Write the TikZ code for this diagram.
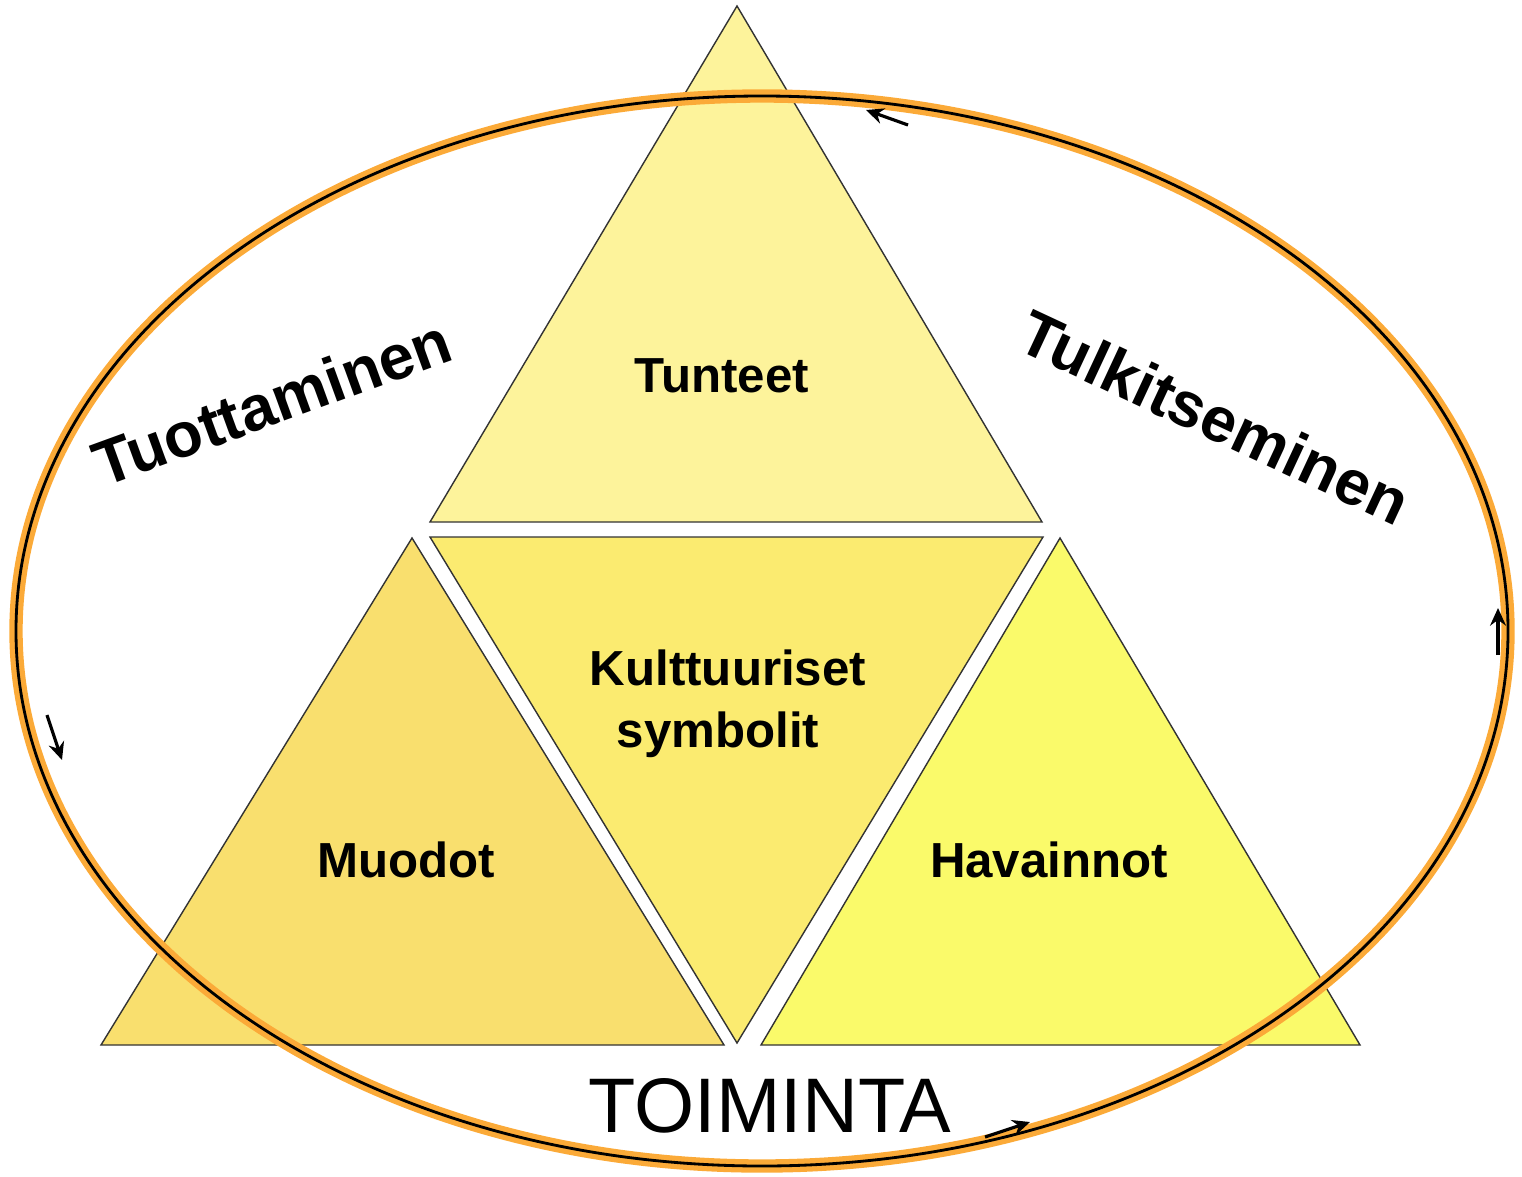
\documentclass[tikz,border=0pt]{standalone}
\usepackage{fontspec}
\setmainfont{Liberation Sans}
\usetikzlibrary{arrows.meta}

\definecolor{toplight}{RGB}{253,243,155}
\definecolor{midyellow}{RGB}{251,235,112}
\definecolor{leftyellow}{RGB}{249,223,110}
\definecolor{rightyellow}{RGB}{250,250,106}
\definecolor{ringorange}{RGB}{251,170,56}

\begin{document}
\begin{tikzpicture}[
    x=0.01cm, y=-0.01cm,
    tri/.style={draw=black!80, line width=0.4pt},
    tritext/.style={font=\bfseries\fontsize{14}{17.5}\selectfont, align=center},
    side/.style={font=\bfseries\fontsize{18}{20}\selectfont},
    ring/.style={draw=ringorange, line width=3.8pt},
    flow/.style={-{Stealth[length=5pt, width=4.5pt]}, line width=0.9pt}
]
    \useasboundingbox (0,0) rectangle (1522,1176);

    % Triangles
    \coordinate (tA) at (737,6);
    \coordinate (tL) at (430,522);
    \coordinate (tR) at (1042,522);
    \fill[toplight] (tA) -- (tR) -- (tL) -- cycle;
    \draw[tri] (tA) -- (tR) -- (tL) -- cycle;

    \coordinate (mL) at (430,537);
    \coordinate (mR) at (1043,537);
    \coordinate (mB) at (737,1043);
    \fill[midyellow] (mL) -- (mR) -- (mB) -- cycle;
    \draw[tri] (mL) -- (mR) -- (mB) -- cycle;

    \coordinate (lA) at (412,538);
    \coordinate (lL) at (101,1045);
    \coordinate (lR) at (724,1045);
    \fill[leftyellow] (lA) -- (lR) -- (lL) -- cycle;
    \draw[tri] (lA) -- (lR) -- (lL) -- cycle;

    \coordinate (rA) at (1060,538);
    \coordinate (rL) at (761,1045);
    \coordinate (rR) at (1360,1045);
    \fill[rightyellow] (rA) -- (rR) -- (rL) -- cycle;
    \draw[tri] (rA) -- (rR) -- (rL) -- cycle;

    % Texts in the triangles
    \node[tritext] (tunteet) at (722,376) {Tunteet};
    \node[tritext] (kult) at (728,704) {Kulttuuriset\\symbolit\hspace*{0.2cm}};
    \node[tritext] (muodot) at (406,860) {Muodot};
    \node[tritext] (havain) at (1049,860) {Havainnot};

    % Cycle round them
    \draw[ring] (762,631) ellipse (746 and 535);
    \draw[line width=0.8pt] (762,631) ellipse (746 and 535);

    \node[side, rotate=20] (tuott) at (272,402) {Tuottaminen};
    \node[side, rotate=-25] (tulk) at (1215,417) {Tulkitseminen};
    \node[font=\fontsize{22}{24}\selectfont] (toim) at (770,1106) {TOIMINTA};

    % Direction of the cycle
    \coordinate (a1s) at (908,125);
    \coordinate (a1e) at (866,110);
    \coordinate (a2s) at (47,715);
    \coordinate (a2e) at (62,760);
    \coordinate (a3s) at (1498,655);
    \coordinate (a3e) at (1498,608);
    \coordinate (a4s) at (985,1137);
    \coordinate (a4e) at (1030,1122);
    \draw[flow] (a1s) -- (a1e);
    \draw[flow] (a2s) -- (a2e);
    \draw[flow] (a3s) -- (a3e);
    \draw[flow] (a4s) -- (a4e);
\end{tikzpicture}
\end{document}
